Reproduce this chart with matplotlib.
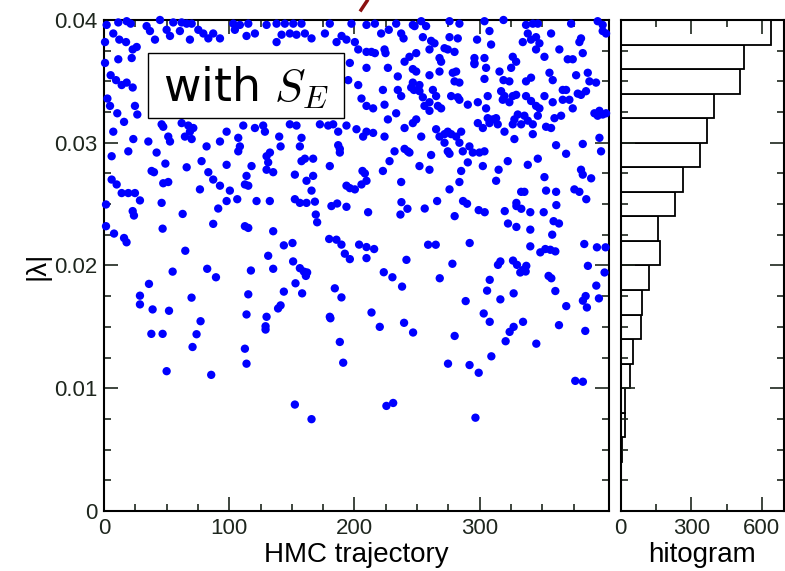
import matplotlib
matplotlib.use("Agg")
import matplotlib.pyplot as plt
from matplotlib.lines import Line2D
from matplotlib.patches import Rectangle
from matplotlib.ticker import MultipleLocator, FixedLocator
import numpy as np

plt.rcParams['font.family'] = ['Liberation Sans', 'DejaVu Sans']
plt.rcParams['mathtext.fontset'] = 'cm'

# (HMC trajectory, |lambda|), left upper part
pts_upper_left = [
    (2.1, .0396), (11.4, .0398), (18.1, .0399), (21.3, .0397), (34.0, .0395), (44.7, .0400),
    (55.3, .0398), (62.0, .0398), (66.0, .0397), (70.0, .0397), (103.2, .0397), (108.5, .0396),
    (115.2, .0397), (129.8, .0396), (137.8, .0397), (144.4, .0397), (151.1, .0397), (157.7, .0397),
    (180.3, .0397), (197.6, .0397), (209.6, .0396), (216.3, .0397),
    (0.8, .0382), (7.4, .0389), (12.2, .0384), (17.6, .0382), (22.9, .0376), (26.1, .0378),
    (36.7, .0391), (40.7, .0384), (50.0, .0392), (52.7, .0387), (60.6, .0391), (68.6, .0384),
    (75.3, .0392), (79.3, .0389), (83.3, .0385), (87.2, .0389), (92.6, .0385), (104.5, .0392),
    (113.8, .0387), (120.5, .0389), (137.8, .0382), (141.8, .0388), (148.4, .0389), (153.7, .0388),
    (160.4, .0389), (165.7, .0385), (176.4, .0389), (185.7, .0382), (189.7, .0387), (193.6, .0384),
    (200.3, .0382), (203.0, .0376), (209.6, .0374), (213.6, .0374), (216.3, .0373),
    (0.8, .0365), (11.4, .0368), (22.1, .0369), (196.3, .0365), (209.6, .0361),
    (5.3, .0355), (9.6, .0351), (14.1, .0347), (18.1, .0349), (22.9, .0345), (2.7, .0336),
    (4.8, .0330), (10.6, .0324), (24.7, .0330), (26.6, .0323),
    (195.0, .0351), (203.0, .0347), (205.6, .0336), (209.6, .0330), (214.9, .0328),
    (7.4, .0309), (16.0, .0317), (23.4, .0303), (35.4, .0301), (42.0, .0292), (46.0, .0315),
    (47.3, .0313), (51.3, .0305), (52.7, .0301), (62.0, .0316), (67.3, .0314), (68.6, .0309),
    (71.3, .0312), (81.9, .0297), (92.6, .0301), (97.9, .0309), (107.2, .0304), (108.5, .0297),
    (111.2, .0314), (120.5, .0312), (127.1, .0314), (128.5, .0309), (139.9, .0305), (141.0, .0297),
    (148.4, .0315), (153.7, .0314), (157.7, .0304), (156.4, .0297), (172.4, .0315), (179.0, .0314),
    (183.0, .0315), (187.0, .0309), (187.0, .0298), (188.3, .0295), (188.3, .0292), (193.6, .0314),
    (201.6, .0311), (206.9, .0305), (209.6, .0309), (214.9, .0308),
    (6.1, .0289), (19.4, .0293), (38.0, .0277), (39.9, .0276), (47.3, .0267), (51.3, .0268),
    (49.0, .0283), (77.9, .0285), (97.9, .0282), (107.2, .0293), (112.5, .0266), (115.2, .0265),
    (113.8, .0273), (117.8, .0281), (129.8, .0289), (132.5, .0292), (131.1, .0284), (129.8, .0278),
    (135.1, .0276), (152.4, .0274), (157.7, .0285), (160.4, .0287), (167.0, .0287), (167.0, .0273),
    (161.7, .0269), (165.7, .0261), (180.3, .0281), (193.6, .0265), (196.3, .0263), (200.3, .0262),
    (205.6, .0266), (209.6, .0269), (206.4, .0277), (208.3, .0275), (10.1, .0266), (14.1, .0259),
    (19.4, .0259), (24.7, .0259), (6.1, .0270), (64.6, .0305), (70.0, .0303), (87.2, .0270),
    (92.6, .0265), (76.6, .0262), (100.5, .0261), (83.3, .0276), (66.0, .0280),
]

# right upper part
pts_upper_right = [
    (233.3, .0397), (246.6, .0396), (253.3, .0399), (275.9, .0399), (283.8, .0397), (303.8, .0399),
    (319.0, .0400), (337.0, .0396), (342.4, .0397), (346.4, .0397), (373.0, .0397), (394.2, .0399),
    (398.2, .0396),
    (221.3, .0389), (227.4, .0392), (237.3, .0389), (239.2, .0385), (248.0, .0395), (257.2, .0395),
    (254.6, .0386), (261.2, .0383), (263.9, .0381), (275.9, .0386), (282.5, .0385), (307.8, .0391),
    (297.9, .0384), (309.1, .0380), (334.4, .0382), (338.4, .0389), (341.0, .0384), (345.0, .0386),
    (347.7, .0381), (357.0, .0389), (380.9, .0385), (379.6, .0382), (398.2, .0391), (400.9, .0389),
    (224.0, .0376), (224.8, .0373), (240.0, .0366), (243.9, .0370), (249.3, .0373), (259.9, .0376),
    (267.9, .0369), (269.2, .0366), (271.9, .0377), (274.5, .0376), (279.9, .0374), (295.8, .0369),
    (295.8, .0365), (303.8, .0369), (326.4, .0370), (329.1, .0366), (345.0, .0376), (351.7, .0370),
    (363.6, .0376), (370.3, .0368), (374.3, .0368), (382.3, .0373),
    (226.7, .0361), (234.6, .0354), (246.6, .0360), (249.3, .0358), (246.6, .0349), (245.3, .0345),
    (251.9, .0347), (259.9, .0355), (267.9, .0358), (278.5, .0357), (281.2, .0358), (279.9, .0350),
    (283.8, .0349), (295.8, .0364), (305.1, .0361), (303.8, .0352), (315.8, .0358), (319.0, .0351),
    (323.7, .0350), (325.1, .0361), (337.0, .0350), (341.0, .0353), (355.7, .0357), (358.3, .0351),
    (366.3, .0343), (369.0, .0343), (377.0, .0355), (386.3, .0357), (387.6, .0350), (392.9, .0349),
    (222.7, .0343), (224.0, .0331), (234.6, .0343), (237.3, .0338), (247.5, .0343), (251.9, .0342),
    (254.6, .0337), (255.9, .0330), (259.9, .0333), (262.6, .0343), (265.2, .0338), (266.6, .0330),
    (269.2, .0328), (277.2, .0338), (282.5, .0337), (283.8, .0335), (290.5, .0331), (298.5, .0333),
    (306.4, .0338), (305.1, .0328), (317.1, .0342), (318.4, .0335), (319.8, .0338), (323.7, .0333),
    (326.4, .0338), (329.1, .0339), (337.0, .0338), (341.0, .0334), (345.0, .0330), (347.7, .0328),
    (351.7, .0338), (358.3, .0333), (366.3, .0335), (371.6, .0335), (374.3, .0328), (378.3, .0340),
    (380.9, .0339), (384.9, .0342), (391.6, .0324), (395.6, .0326), (400.9, .0324),
    (226.7, .0319), (233.3, .0324), (240.0, .0312), (246.6, .0316), (249.3, .0319), (259.9, .0326),
    (265.2, .0311), (267.9, .0305), (271.9, .0307), (274.5, .0309), (277.2, .0307), (281.2, .0305),
    (285.2, .0309), (298.5, .0316), (302.5, .0312), (306.4, .0320), (307.8, .0316), (310.4, .0319),
    (313.1, .0320), (314.4, .0315), (319.8, .0309), (326.4, .0315), (327.7, .0319), (330.4, .0323),
    (333.1, .0315), (335.7, .0322), (338.4, .0318), (342.4, .0315), (346.4, .0322), (353.0, .0313),
    (357.0, .0312), (359.7, .0320), (365.0, .0322), (394.2, .0322), (398.2, .0323),
    (224.0, .0305), (240.0, .0295), (242.6, .0293), (243.9, .0292), (253.3, .0305), (261.2, .0290),
    (271.9, .0300), (274.5, .0293), (275.9, .0291), (283.8, .0300), (286.5, .0293), (291.8, .0297),
    (294.5, .0292), (299.8, .0292), (303.8, .0293), (322.4, .0285), (327.7, .0303), (338.4, .0282),
    (342.4, .0307), (346.4, .0287), (361.0, .0298), (369.0, .0291), (382.3, .0299), (395.6, .0304),
    (396.9, .0293),
    (222.7, .0277), (228.0, .0285), (232.0, .0293), (237.3, .0268), (251.9, .0281), (259.9, .0278),
    (275.9, .0262), (285.2, .0277), (283.8, .0268), (290.5, .0284), (302.5, .0281), (313.1, .0269),
    (315.1, .0278), (333.1, .0260), (335.7, .0260), (351.7, .0272), (353.0, .0261), (361.0, .0260),
    (375.6, .0262), (379.6, .0260), (380.9, .0278), (382.3, .0274), (389.0, .0271),
]

# lower part (below about 0.0255)
pts_lower = [
    (1.6, .02497), (1.6, .0232), (8.0, .0226), (16.0, .02224), (18.0, .02189), (22.9, .02443),
    (23.9, .02407), (28.7, .0253), (46.0, .0251), (46.8, .0230), (62.8, .0242), (64.9, .0212),
    (35.9, .0185), (28.7, .01754), (28.7, .01683), (38.8, .01642), (51.9, .01631), (54.8, .0195),
    (37.8, .01443), (46.8, .01443), (50.0, .01139), (69.9, .01738), (77.1, .01546), (73.9, .0144),
    (70.7, .01336), (85.6, .01109), (82.4, .01973), (89.4, .01904), (87.2, .02339), (91.2, .02464),
    (97.9, .02525), (106.4, .0254), (112.5, .0232), (115.2, .02306), (121.8, .02525), (132.4, .02525),
    (135.1, .02279), (131.1, .02079), (135.1, .01973), (117.3, .01959), (115.2, .01765), (113.8, .01601),
    (112.5, .01322), (113.8, .0120), (129.8, .01582), (129.0, .01505), (129.0, .01478), (139.0, .0165),
    (141.0, .01675), (143.6, .01787), (143.6, .02164), (150.5, .02183), (151.0, .02033), (152.9, .01855),
    (156.4, .01978), (159.6, .0195), (161.2, .01915), (162.2, .01943), (158.2, .01773), (152.4, .0254),
    (156.4, .0251), (161.7, .0251), (168.4, .0252), (169.1, .02415), (170.2, .02352), (179.8, .02216),
    (185.6, .0221), (189.6, .0217), (181.6, .02484), (186.2, .02505), (193.6, .02478), (192.3, .02096),
    (196.3, .02052), (184.3, .01814), (189.6, .0174), (180.3, .01582), (180.8, .0157), (188.3, .01377),
    (191.0, .01208), (203.7, .0217), (209.6, .0215), (215.7, .02134), (210.9, .02434), (209.6, .0206),
    (213.6, .01617), (220.2, .0150),
    (237.5, .02516), (236.7, .02415), (242.3, .02462), (256.1, .02464), (266.0, .02525), (286.7, .02525),
    (289.9, .02503), (280.0, .02402), (299.2, .02451), (304.0, .02434), (320.0, .02443), (329.3, .0251),
    (329.3, .02484), (333.2, .02462), (340.4, .02434), (351.1, .02434), (361.2, .02492), (385.1, .0254),
    (322.6, .02342), (329.3, .02314), (340.4, .02292), (357.9, .02251), (359.0, .02361), (363.3, .02342),
    (258.8, .02169), (264.9, .02169), (292.0, .02183), (241.5, .02046), (278.2, .02014), (223.4, .01945),
    (230.3, .01904), (238.0, .01828), (268.1, .01896), (314.6, .02005), (316.5, .02033), (326.6, .0204),
    (329.8, .02005), (334.6, .01964), (337.2, .01997), (336.7, .01951), (332.4, .01943), (340.4, .02156),
    (348.4, .02107), (352.4, .02134), (356.4, .02128), (360.4, .02115), (355.0, .01915), (357.2, .01896),
    (360.4, .01792), (383.5, .02175), (393.6, .02148), (400.5, .02148), (386.4, .01997), (399.7, .01943),
    (393.1, .01836), (384.6, .01751), (382.4, .01713), (385.6, .01658), (395.2, .01732), (308.0, .01883),
    (305.9, .01795), (316.5, .01724), (327.1, .01773), (288.8, .0171), (303.2, .01609), (308.0, .01541),
    (323.9, .01459), (327.1, .0150), (334.6, .01541), (320.7, .01383), (345.2, .01363), (363.3, .01514),
    (369.1, .01669), (384.3, .01467), (239.6, .01533), (246.8, .01454), (280.0, .01426), (309.3, .0126),
    (274.7, .0120), (291.9, .01189), (299.2, .01126), (376.3, .0106), (382.4, .01053),
    (152.4, .00867), (165.7, .00748), (225.5, .00856), (230.9, .0088), (296.6, .0076),
]

# histogram of |lambda|, bins of 0.002
hist_edges = [0.000, 0.002, 0.004, 0.006, 0.008, 0.010, 0.012, 0.014, 0.016, 0.018,
              0.020, 0.022, 0.024, 0.026, 0.028, 0.030, 0.032, 0.034, 0.036, 0.038]
hist_counts = [2, 3, 4, 20, 18, 41, 53, 87, 92, 119,
               166, 160, 233, 267, 339, 366, 398, 506, 526, 640]

x_major = [0, 100, 200, 300]
x_minor = [25, 50, 75, 125, 150, 175, 225, 250, 275, 325, 350, 375]
y_ticks = [0, 0.01, 0.02, 0.03, 0.04]
y_labels = ['0', '0.01', '0.02', '0.03', '0.04']

pts = np.array(pts_upper_left + pts_upper_right + pts_lower)
traj, lam = pts[:, 0], pts[:, 1]

fig = plt.figure(figsize=(7.85, 5.71), dpi=100)
ax = fig.add_axes([0.1325, 0.1051, 0.6429, 0.8599])
axh = fig.add_axes([0.7907, 0.1051, 0.2076, 0.8599])

ax.scatter(traj, lam, s=36, c='#0000ff', edgecolors='none', clip_on=False, zorder=3)
ax.set_xlim(0, 403)
ax.set_ylim(0, 0.04)
ax.xaxis.set_major_locator(FixedLocator(x_major))
ax.xaxis.set_minor_locator(FixedLocator(x_minor))
ax.set_yticks(y_ticks)
ax.set_yticklabels(y_labels)
ax.yaxis.set_minor_locator(MultipleLocator(0.0025))
ax.set_xlabel('HMC trajectory', fontsize=20, labelpad=2)
ax.set_ylabel('|λ|', fontsize=20, labelpad=2)

axh.barh(hist_edges, hist_counts, height=0.002, align='edge',
         color='white', edgecolor='black', linewidth=1.3)
axh.set_xlim(0, 693)
axh.set_ylim(0, 0.04)
axh.xaxis.set_major_locator(MultipleLocator(300))
axh.xaxis.set_minor_locator(MultipleLocator(150))
axh.yaxis.set_major_locator(MultipleLocator(0.01))
axh.yaxis.set_minor_locator(MultipleLocator(0.0025))
axh.set_yticklabels([])
axh.set_xlabel('hitogram', fontsize=20, labelpad=2)

for a in (ax, axh):
    a.tick_params(which='both', direction='in', top=True, right=True,
                  labelsize=16, pad=5, width=1.2, colors='#1e261e')
    a.tick_params(which='major', length=10)
    a.tick_params(which='minor', length=5)
    for s in a.spines.values():
        s.set_linewidth(1.5)

# "with S_E" box
ax.add_patch(Rectangle((0.0878, 0.7998), 0.3877, 0.1336, transform=ax.transAxes,
                       facecolor='white', edgecolor='black', linewidth=1.0, zorder=5))
ax.text(0.2817, 0.862, 'with $S_E$', transform=ax.transAxes, fontsize=33,
        family='DejaVu Sans', ha='center', va='center', zorder=6)

# small red stroke at the top edge (from the original slide)
fig.add_artist(Line2D([361 / 785, 367 / 785], [1 - 10 / 571, 1 - 1 / 571],
                      transform=fig.transFigure, color='#8b1010', linewidth=2.5))

fig.savefig('out.png', dpi=100)
